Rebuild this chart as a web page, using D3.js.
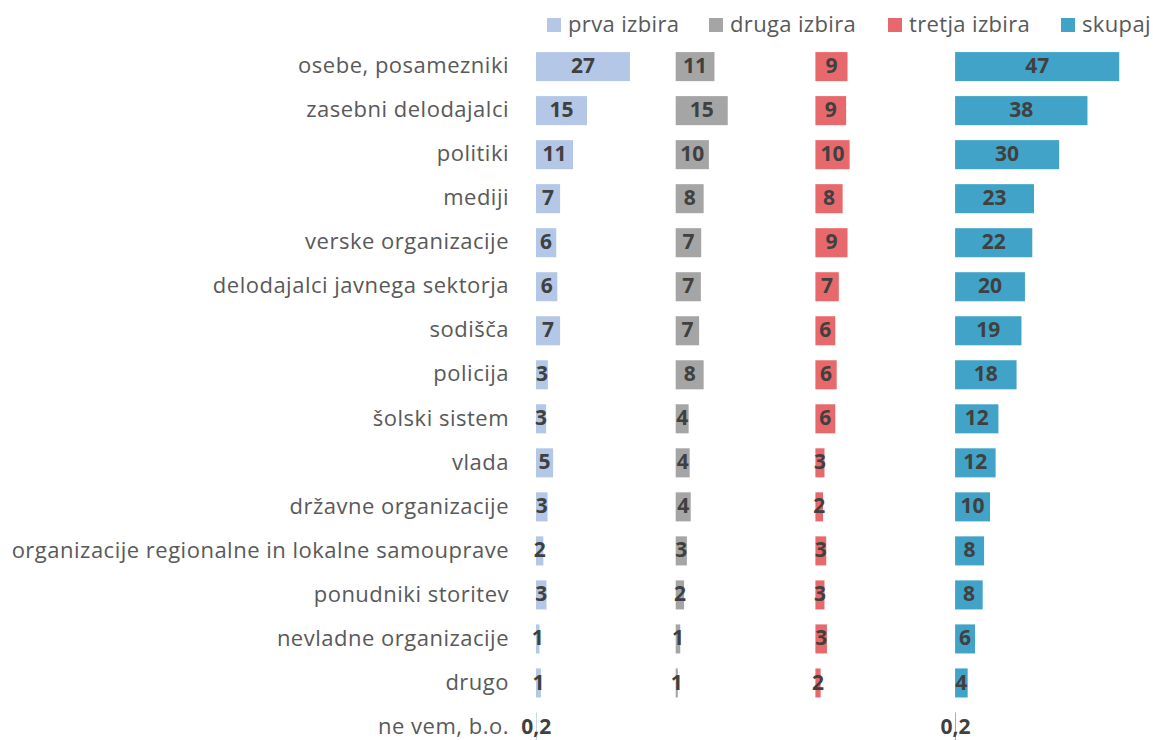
<!DOCTYPE html>
<html>
<head>
<meta charset="utf-8">
<script src="https://cdn.jsdelivr.net/npm/d3@7"></script>
<style>
  body { margin: 0; background: #fff; }
  svg { display: block; }
</style>
</head>
<body>
<svg width="1153" height="740"></svg>
<script>
// categories, top to bottom
var categories = ["osebe, posamezniki", "zasebni delodajalci", "politiki", "mediji",
  "verske organizacije", "delodajalci javnega sektorja", "sodišča", "policija",
  "šolski sistem", "vlada", "državne organizacije",
  "organizacije regionalne in lokalne samouprave", "ponudniki storitev",
  "nevladne organizacije", "drugo", "ne vem, b.o."];

var seriesNames = ["prva izbira", "druga izbira", "tretja izbira", "skupaj"];
var seriesColors = ["#b4c7e7", "#a5a5a5", "#e8696b", "#41a3c7"];

// values (labels are rounded)
var prva   = [26.9, 14.6, 10.6, 6.9, 5.8, 6.1, 6.9, 3.4, 2.9, 4.9, 3.3, 2.1, 3.0, 1.0, 1.4, 0.2];
var druga  = [11.1, 14.9, 9.5, 8.0, 7.3, 7.2, 6.7, 8.0, 3.7, 4.0, 4.3, 3.2, 2.4, 1.3, 0.6, null];
var tretja = [9.2, 8.8, 9.8, 7.8, 9.2, 6.7, 5.7, 6.1, 5.7, 2.6, 2.2, 3.1, 2.6, 3.3, 1.5, null];
var skupaj = [47.0, 37.9, 29.8, 22.6, 22.1, 20.0, 19.0, 17.6, 12.4, 11.6, 10.0, 8.3, 7.9, 5.7, 3.6, 0.2];

var seriesValues = [prva, druga, tretja, skupaj];

function createChart() {
  var svg = d3.select("svg");
  var font = "'Open Sans', sans-serif";

  // rows
  var y = d3.scaleBand()
    .domain(categories)
    .range([44.6, 749])
    .paddingInner(0.34)
    .paddingOuter(0.17);

  // one panel per series, side by side
  var panel = d3.scaleBand()
    .domain(seriesNames)
    .range([536, 536 + 4 * 139.7]);

  // shared value scale inside each panel
  var x = d3.scaleLinear()
    .domain([0, 40])
    .range([0, 139.7]);

  var fmt = function(v) {
    if (v < 0.5) return d3.format(".1f")(v).replace(".", ",");
    return d3.format(".0f")(v);
  };

  // category labels
  svg.append("g").selectAll("text")
    .data(categories).enter().append("text")
    .attr("x", 509)
    .attr("y", function(d) { return y(d) + y.bandwidth() / 2 - 1; })
    .attr("dy", "0.35em")
    .attr("text-anchor", "end")
    .style("font-family", font)
    .style("font-size", "22px")
    .style("letter-spacing", "0.5px")
    .attr("fill", "#595959")
    .text(function(d) { return d; });

  seriesNames.forEach(function(name, si) {
    var rows = categories.map(function(c, i) { return {cat: c, v: seriesValues[si][i]}; })
      .filter(function(d) { return d.v != null; });
    var g = svg.append("g").attr("transform", "translate(" + panel(name) + ",0)");

    g.selectAll("rect")
      .data(rows).enter().append("rect")
      .attr("x", 0)
      .attr("y", function(d) { return y(d.cat); })
      .attr("width", function(d) { return x(d.v); })
      .attr("height", y.bandwidth())
      .attr("fill", seriesColors[si]);

    g.selectAll("text")
      .data(rows).enter().append("text")
      .attr("x", function(d) { return x(d.v) / 2; })
      .attr("y", function(d) { return y(d.cat) + y.bandwidth() / 2 - 1; })
      .attr("dy", "0.36em")
      .attr("text-anchor", "middle")
      .style("font-family", font)
      .style("font-size", "21px")
      .style("font-weight", "bold")
      .attr("fill", "#404040")
      .text(function(d) { return fmt(d.v); });
  });

  // legend
  var legendX = [547, 709, 888, 1061];
  var legend = svg.append("g").selectAll("g")
    .data(seriesNames).enter().append("g")
    .attr("transform", function(d, i) { return "translate(" + legendX[i] + ",18)"; });
  legend.append("rect")
    .attr("width", 14).attr("height", 14)
    .attr("fill", function(d, i) { return seriesColors[i]; });
  legend.append("text")
    .attr("x", 21)
    .attr("y", 6)
    .attr("dy", "0.35em")
    .style("font-family", font)
    .style("font-size", "22px")
    .style("letter-spacing", "0.35px")
    .attr("fill", "#595959")
    .text(function(d) { return d; });
}

createChart();
</script>
</body>
</html>
